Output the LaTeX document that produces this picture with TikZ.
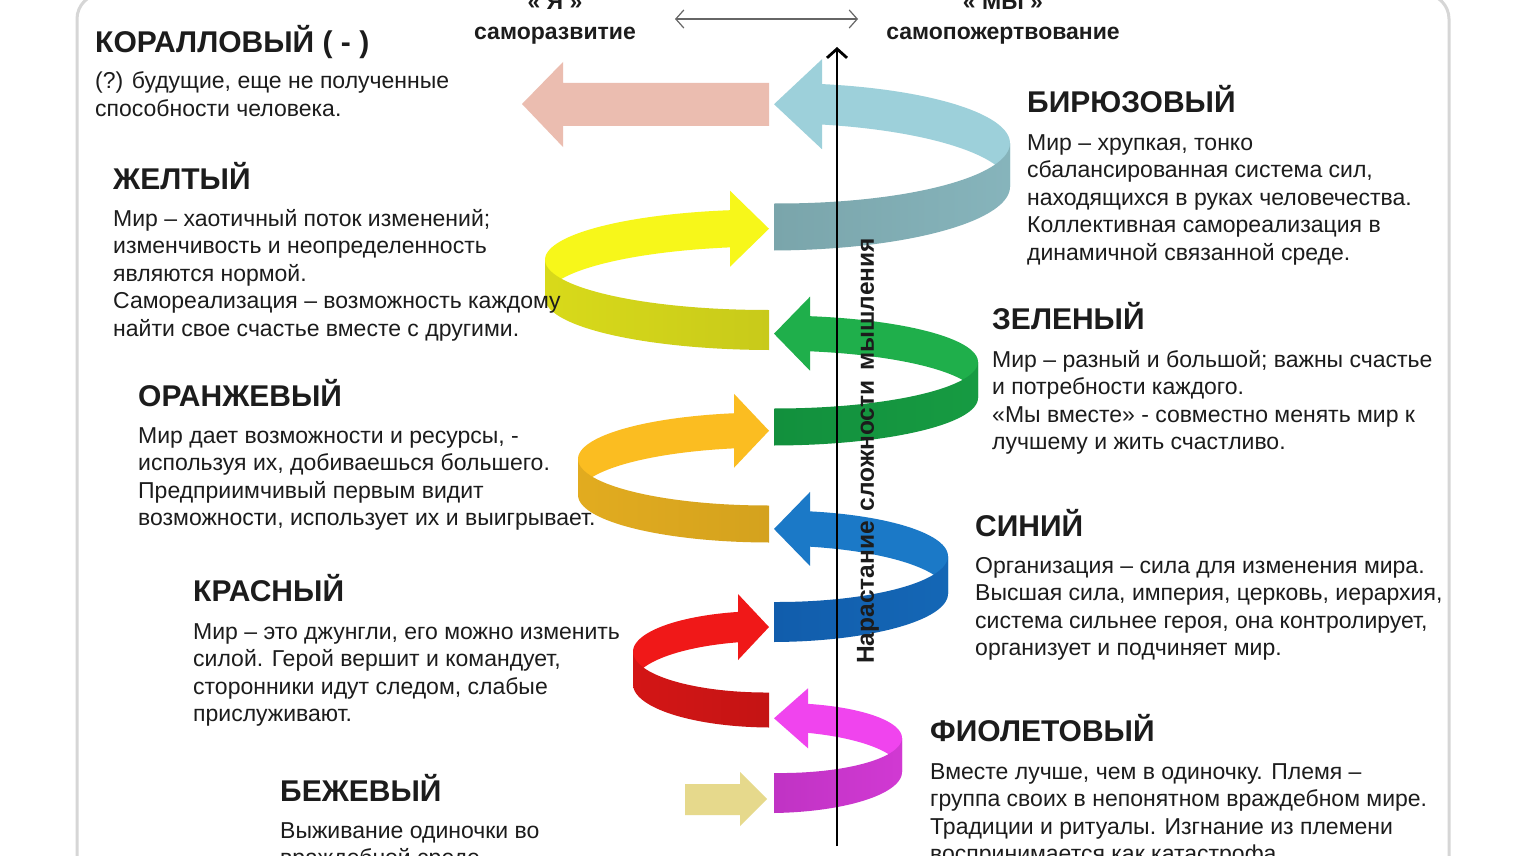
\documentclass[tikz,border=0pt]{standalone}
\usepackage{fontspec}
\setmainfont{Liberation Sans}
\usetikzlibrary{arrows.meta}
\definecolor{coral}{HTML}{EBBDB0}
\definecolor{beige}{HTML}{E6D98C}
\definecolor{tealB}{HTML}{9DD0DA}
\definecolor{tealF}{HTML}{7AA5AB}
\definecolor{yelB}{HTML}{F7F71A}
\definecolor{yelF}{HTML}{C8CA1A}
\definecolor{grnB}{HTML}{1FAF4B}
\definecolor{grnF}{HTML}{12903D}
\definecolor{orgB}{HTML}{FBBD21}
\definecolor{orgF}{HTML}{D4A21E}
\definecolor{bluB}{HTML}{1B79C7}
\definecolor{bluF}{HTML}{115DAC}
\definecolor{redB}{HTML}{F01818}
\definecolor{redF}{HTML}{C41414}
\definecolor{magB}{HTML}{F044EE}
\definecolor{magF}{HTML}{C033C4}
\definecolor{ink}{HTML}{1C1C1C}
\definecolor{framegray}{HTML}{D6D6D6}
\newcommand\txtblock[4]{\foreach \ln [count=\i] in {#4}{\node[bodytxt] (#1\i) at (#2,{#3+(\i-1)*27.6}) {\ln};}}
\begin{document}
\begin{tikzpicture}[x=1pt,y=-1pt,
  bodytxt/.style={anchor=base west,inner sep=0pt,text=ink,font=\fontsize{23}{27}\selectfont},
  headtxt/.style={anchor=base west,inner sep=0pt,text=ink,font=\fontsize{30}{34}\selectfont\bfseries},
  toptxt/.style={anchor=base,inner sep=0pt,text=ink,font=\fontsize{23}{27}\selectfont\bfseries},
  vert/.style={inner sep=0pt,text=ink,font=\fontsize{24.5}{29}\selectfont\bfseries,rotate=90},
  frame/.style={draw=framegray,line width=3pt,rounded corners=25pt}]
\useasboundingbox (0,0) rectangle (1525,856);
\clip (0,0) rectangle (1525,856);
\fill[white] (0,0) rectangle (1525,856);
\draw[frame] (77,-6) rectangle (1449,900);

% straight arrows
\fill[coral] (769,83) -- (563,83) -- (563,62) -- (522,104) -- (563,147) -- (563,126) -- (769,126) -- cycle;
\fill[beige] (685,784) -- (740,784) -- (740,772) -- (767,799) -- (740,826) -- (740,815) -- (685,815) -- cycle;

% spiral ribbons
\foreach \nm/\sd/\xo/\cy/\ra/\rb/\hf/\hb/\hh/\hl/\cb/\cf in {
  teal/1/774/165/236/62/47/40/45/47/tealB/tealF,
  yel/-1/769/279/224/51/40/37/38/38/yelB/yelF,
  grn/1/774/380/204/47/37/35/37/35/grnB/grnF,
  org/-1/769/477/191/47/37/35/37/34/orgB/orgF,
  blu/1/774/575/174/47/40/35/37/35/bluB/bluF,
  red/-1/769/668/136/42/35/30/33/30/redB/redF,
  mag/1/774/755/128/38/40/28/30/33/magB/magF}{
  \pgfmathsetmacro\te{180-asin(\hl/\ra)}
  \pgfmathsetmacro\yp{\cy+\rb*cos(\te)}
  \ifnum\sd>0 \def\lc{\cf}\def\rc{\cf!65!\cb}\else\def\lc{\cf!65!\cb}\def\rc{\cf}\fi
  \fill[\cb] plot[domain=90:\te,samples=40] ({\xo+\sd*\ra*sin(\x)},{\cy+\rb*cos(\x)-(\hf+(\hb-\hf)*\x/180)/2})
     -- plot[domain=\te:90,samples=40] ({\xo+\sd*\ra*sin(\x)},{\cy+\rb*cos(\x)+(\hf+(\hb-\hf)*\x/180)/2}) -- cycle;
  \fill[\cb] ({\xo+\sd*(\hl+1)},{\yp-\hh}) -- (\xo,\yp) -- ({\xo+\sd*(\hl+1)},{\yp+\hh}) -- cycle;
  \shade[left color=\lc,right color=\rc] plot[domain=0:90,samples=40] ({\xo+\sd*\ra*sin(\x)},{\cy+\rb*cos(\x)-(\hf+(\hb-\hf)*\x/180)/2})
     -- plot[domain=90:0,samples=40] ({\xo+\sd*\ra*sin(\x)},{\cy+\rb*cos(\x)+(\hf+(\hb-\hf)*\x/180)/2}) -- cycle;
}

% axis
\coordinate (axb) at (837,846);
\coordinate (axt) at (837,47);
\draw[line width=2.8pt,-{Straight Barb[length=9pt,width=20pt]}] (axb) -- (axt);
\node[vert] (axislabel) at (868,451) {Нарастание\hspace{3pt} сложности\hspace{3pt} мышления};

% top labels
\node[toptxt] (ya) at (555,10) {« Я »};
\node[toptxt] (yadesc) at (555,40) {саморазвитие};
\node[toptxt] (my) at (1003,10) {« МЫ »};
\node[toptxt] (mydesc) at (1003,40) {самопожертвование};
\coordinate (dl) at (675,19);
\coordinate (dr) at (858,19);
\draw[draw=gray!80!black,line width=1.2pt,{Straight Barb[length=8pt,width=18pt]}-{Straight Barb[length=8pt,width=18pt]}] (dl) -- (dr);

% left texts
\node[headtxt] (coralh) at (95,53) {КОРАЛЛОВЫЙ ( - )};
\txtblock{coral}{95}{89}{{(?) будущие, еще не полученные},{способности человека.}}
\node[headtxt] (yelh) at (113,189) {ЖЕЛТЫЙ};
\txtblock{yel}{113}{226}{{Мир – хаотичный поток изменений;},{изменчивость и неопределенность},{являются нормой.},{Самореализация – возможность каждому},{найти свое счастье вместе с другими.}}
\node[headtxt] (orgh) at (138,406) {ОРАНЖЕВЫЙ};
\txtblock{org}{138}{443}{{Мир дает возможности и ресурсы, -},{используя их, добиваешься большего.},{Предприимчивый первым видит},{возможности, использует их и выигрывает.}}
\node[headtxt] (redh) at (193,601) {КРАСНЫЙ};
\txtblock{red}{193}{639}{{Мир – это джунгли, его можно изменить},{силой. Герой вершит и командует,},{сторонники идут следом, слабые},{прислуживают.}}
\node[headtxt] (beih) at (280,801) {БЕЖЕВЫЙ};
\txtblock{bei}{280}{838}{{Выживание одиночки во},{враждебной среде.}}

% right texts
\node[headtxt] (tealh) at (1027,113) {БИРЮЗОВЫЙ};
\txtblock{teal}{1027}{150}{{Мир – хрупкая, тонко},{сбалансированная система сил,},{находящихся в руках человечества.},{Коллективная самореализация в},{динамичной связанной среде.}}
\node[headtxt] (grnh) at (992,329) {ЗЕЛЕНЫЙ};
\txtblock{grn}{992}{367}{{Мир – разный и большой; важны счастье},{и потребности каждого.},{«Мы вместе» - совместно менять мир к},{лучшему и жить счастливо.}}
\node[headtxt] (bluh) at (975,536) {СИНИЙ};
\txtblock{blu}{975}{573}{{Организация – сила для изменения мира.},{Высшая сила, империя, церковь, иерархия,},{система сильнее героя, она контролирует,},{организует и подчиняет мир.}}
\node[headtxt] (magh) at (930,741) {ФИОЛЕТОВЫЙ};
\txtblock{mag}{930}{779}{{Вместе лучше, чем в одиночку. Племя –},{группа своих в непонятном враждебном мире.},{Традиции и ритуалы. Изгнание из племени},{воспринимается как катастрофа.}}
\end{tikzpicture}
\end{document}
